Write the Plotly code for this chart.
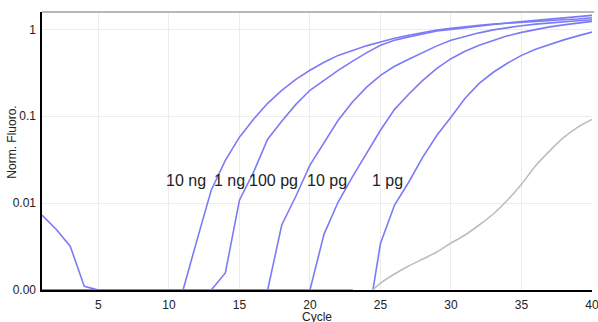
import math
import plotly.graph_objects as go

cycles = list(range(1, 41))

ng10 = [0.0073, 0.0050, 0.0032, 0.0011, 0.001, 0.001, 0.001, 0.001, 0.001, 0.001,
        0.001, 0.0038, 0.0141, 0.031, 0.0574, 0.0925, 0.141, 0.199, 0.266, 0.338,
        0.418, 0.502, 0.574, 0.646, 0.715, 0.790, 0.855, 0.920, 0.985, 1.030,
        1.080, 1.115, 1.150, 1.180, 1.210, 1.236, 1.260, 1.290, 1.315, 1.362]
ng1 = [0.001] * 13 + [0.00157, 0.0108, 0.0227, 0.0545, 0.0877, 0.137, 0.199,
        0.259, 0.338, 0.429, 0.537, 0.655, 0.748, 0.820, 0.888, 0.960, 1.0,
        1.050, 1.095, 1.140, 1.185, 1.225, 1.270, 1.315, 1.360, 1.405, 1.449]
pg100 = [0.001] * 17 + [0.0056, 0.0120, 0.0274, 0.0502, 0.090, 0.145, 0.215,
        0.296, 0.376, 0.452, 0.544, 0.646, 0.748, 0.831, 0.912, 0.987, 1.049,
        1.103, 1.148, 1.188, 1.227, 1.259, 1.290]
pg10 = [0.001] * 20 + [0.0044, 0.0103, 0.0199, 0.0376, 0.069, 0.120, 0.179,
        0.259, 0.356, 0.460, 0.559, 0.655, 0.748, 0.842, 0.924, 1.0, 1.068,
        1.126, 1.181, 1.236]
pg1 = [0.001] * 23 + [0.00034, 0.00344, 0.0095, 0.0174, 0.0338, 0.0605, 0.0975,
        0.161, 0.239, 0.321, 0.407, 0.502, 0.589, 0.673, 0.757, 0.842, 0.931]
ntc_cycles = list(range(24, 41))
ntc = [0.00085, 0.0012, 0.00153, 0.00189, 0.00227, 0.00274, 0.00347, 0.0043,
       0.0056, 0.0075, 0.0108, 0.0165, 0.027, 0.040, 0.057, 0.075, 0.092]

label_texts = ["10 ng", "1 ng", "100 pg", "10 pg", "1 pg"]
label_x = [11.2, 14.3, 17.45, 21.2, 25.5]
label_y = 0.0184

y_tickvals = [0.001, 0.01, 0.1, 1]
y_ticktext = ["0.00", "0.01", "0.1", "1"]
x_tickvals = [5, 10, 15, 20, 25, 30, 35, 40]

BLUE = "#7b7bf7"
GRAY = "#bdbdbd"
FONT = "Liberation Sans, Arial"

fig = go.Figure()
for ys in [ng10, ng1, pg100, pg10, pg1]:
    fig.add_trace(go.Scatter(x=cycles, y=ys, mode="lines",
                             line=dict(color=BLUE, width=1.6), hoverinfo="skip"))
fig.add_trace(go.Scatter(x=ntc_cycles, y=ntc, mode="lines",
                         line=dict(color=GRAY, width=1.6, shape="spline", smoothing=0.8),
                         hoverinfo="skip"))

for t, x in zip(label_texts, label_x):
    fig.add_annotation(x=x, y=math.log10(label_y), text=t, showarrow=False,
                       font=dict(family=FONT, size=16, color="#222"),
                       xanchor="center", yanchor="middle")

fig.add_annotation(xref="paper", yref="paper", x=-0.0545, y=0.53, text="Norm. Fluoro.",
                   textangle=-90, showarrow=False, xanchor="center", yanchor="middle",
                   font=dict(family=FONT, size=12, color="#222"))
fig.add_annotation(xref="paper", yref="paper", x=0.5, y=-0.096, text="Cycle",
                   showarrow=False, xanchor="center", yanchor="middle",
                   font=dict(family=FONT, size=12, color="#222"))

fig.add_shape(type="line", xref="paper", yref="paper", x0=0, x1=1.004, y0=1, y1=1,
              line=dict(color="#a0a0a0", width=1.5))

fig.update_layout(
    width=598, height=322,
    margin=dict(l=42, r=6, t=12, b=32, autoexpand=False),
    paper_bgcolor="white", plot_bgcolor="white",
    showlegend=False,
    font=dict(family=FONT, size=12, color="#222"),
    xaxis=dict(range=[1, 40], tickvals=x_tickvals, showgrid=True, gridcolor="#ececec",
               gridwidth=1, showline=True, linecolor="black", linewidth=1.6,
               ticks="outside", ticklen=3, tickcolor="rgba(0,0,0,0)", zeroline=False,
               automargin=False, ticklabeloverflow="allow"),
    yaxis=dict(type="log", range=[-3, 0.2], tickvals=y_tickvals, ticktext=y_ticktext,
               showgrid=True, gridcolor="#ececec", gridwidth=1, showline=True,
               linecolor="black", linewidth=1.6, ticks="outside", ticklen=2,
               tickcolor="rgba(0,0,0,0)", zeroline=False, automargin=False,
               ticklabeloverflow="allow"),
)

fig.write_html("out.html", config={"displayModeBar": False, "staticPlot": True},
               post_script="document.body.style.margin='0';document.body.style.overflow='hidden';")
